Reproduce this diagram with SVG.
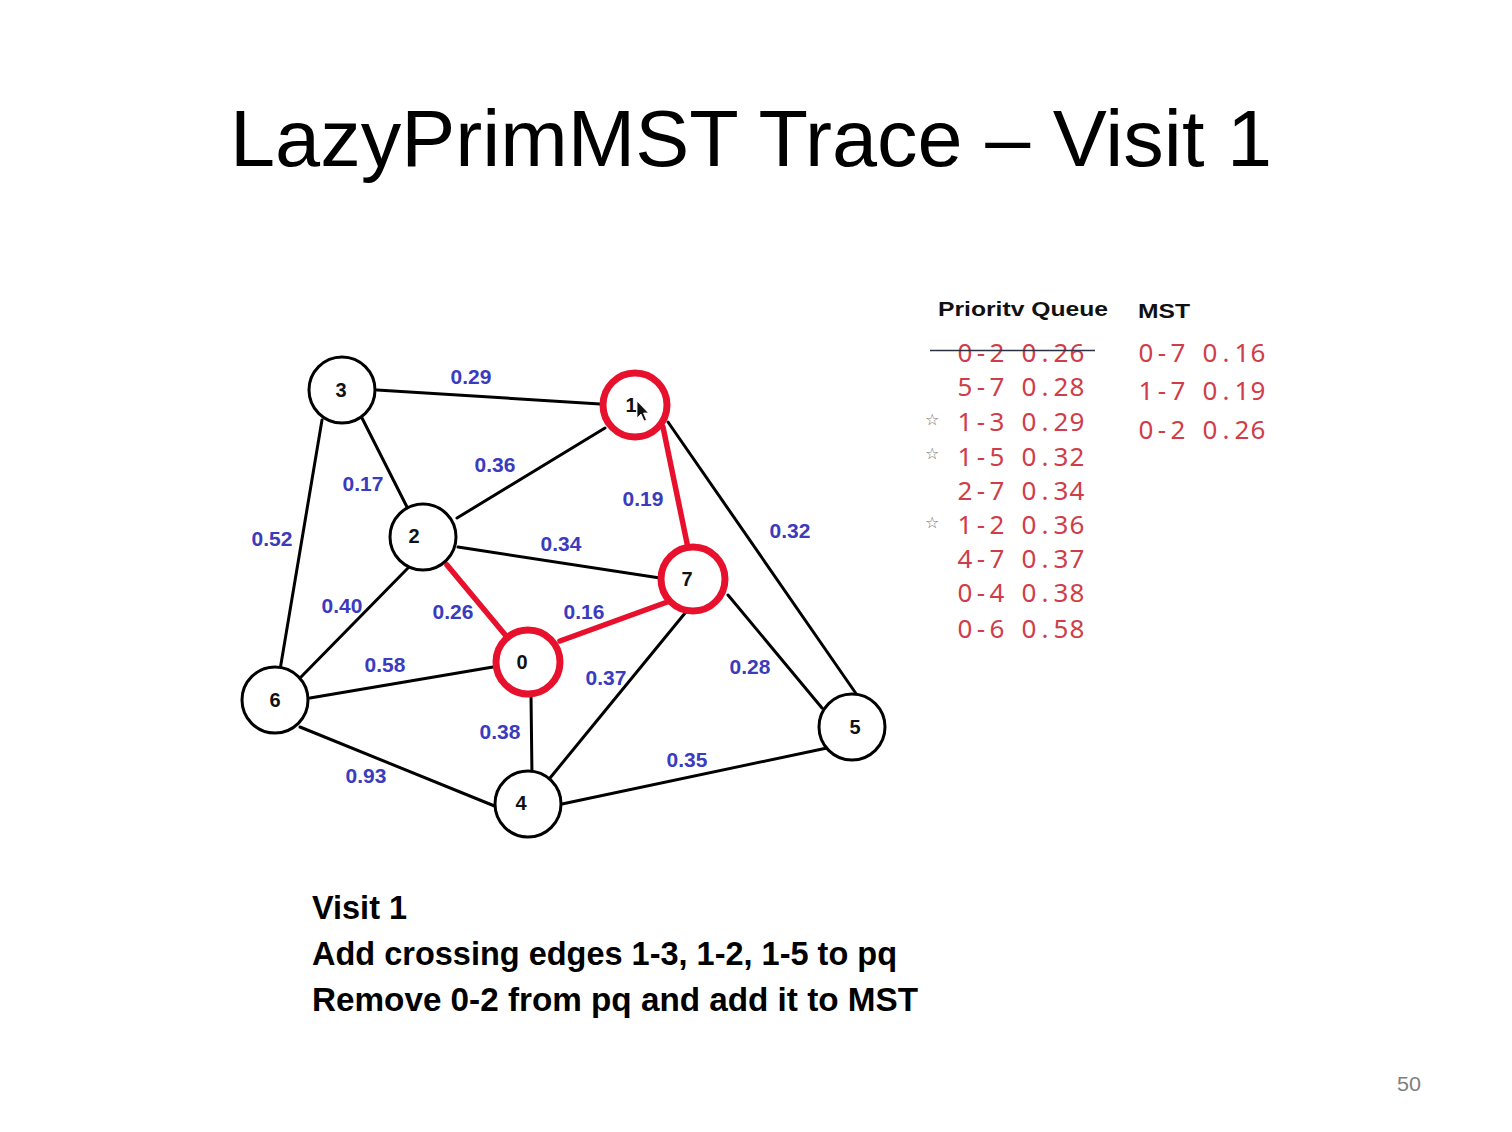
<svg xmlns="http://www.w3.org/2000/svg" width="1512" height="1132" viewBox="0 0 1512 1132">
<style>
.edge{stroke:#000;stroke-width:3;stroke-linecap:round;fill:none}
.tree{stroke:#e8112d;stroke-width:5.5;stroke-linecap:round;fill:none}
.node{fill:#fff;stroke:#000;stroke-width:3}
.rnode{fill:#fff;stroke:#e8112d;stroke-width:7}
.nl{font-family:"Liberation Sans",Arial,sans-serif;font-weight:bold;font-size:20px;fill:#111;text-anchor:middle}
.wl{font-family:"Liberation Sans",Arial,sans-serif;font-weight:bold;font-size:21px;fill:#3b3bbd;text-anchor:middle}
.pq{font-family:"Noto Sans","Open Sans",sans-serif;font-size:26px;fill:#cf3d4a;text-anchor:middle}
.hd{font-family:"Liberation Sans",Arial,sans-serif;font-weight:bold;font-size:21px;fill:#111}
.body{font-family:"Liberation Sans",Arial,sans-serif;font-weight:bold;font-size:33px;fill:#000}
.star{font-family:"DejaVu Sans",sans-serif;font-size:16px;fill:#777}
</style>
<rect width="1512" height="1132" fill="#fff"/>
<text x="230" y="166" font-family="'Liberation Sans',Arial,sans-serif" font-size="80" fill="#000" textLength="1042" lengthAdjust="spacingAndGlyphs">LazyPrimMST Trace – Visit 1</text>

<g id="connectors">
<line class="edge" x1="377" y1="390" x2="600" y2="404"/>
<line class="edge" x1="362" y1="418" x2="407" y2="507"/>
<line class="edge" x1="322" y1="420" x2="280" y2="670"/>
<line class="edge" x1="605" y1="428" x2="457" y2="518"/>
<line class="edge" x1="668" y1="422" x2="857" y2="695"/>
<line class="edge" x1="458" y1="547" x2="660" y2="578"/>
<line class="edge" x1="408" y1="568" x2="300" y2="678"/>
<line class="edge" x1="493" y1="667" x2="310" y2="698"/>
<line class="edge" x1="531" y1="694" x2="532" y2="778"/>
<line class="edge" x1="690" y1="607" x2="550" y2="778"/>
<line class="edge" x1="728" y1="595" x2="822" y2="708"/>
<line class="edge" x1="300" y1="727" x2="497" y2="807"/>
<line class="edge" x1="562" y1="804" x2="827" y2="748"/>
<line class="tree" x1="663" y1="427" x2="688" y2="548"/>
<line class="tree" x1="447" y1="565" x2="507" y2="637"/>
<line class="tree" x1="560" y1="641" x2="670" y2="601"/>
</g>

<g id="edge-labels">
<text class="wl" x="471" y="384">0.29</text>
<text class="wl" x="495" y="472">0.36</text>
<text class="wl" x="363" y="491">0.17</text>
<text class="wl" x="643" y="506">0.19</text>
<text class="wl" x="790" y="538">0.32</text>
<text class="wl" x="272" y="546">0.52</text>
<text class="wl" x="561" y="551">0.34</text>
<text class="wl" x="342" y="613">0.40</text>
<text class="wl" x="453" y="619">0.26</text>
<text class="wl" x="584" y="619">0.16</text>
<text class="wl" x="385" y="672">0.58</text>
<text class="wl" x="606" y="685">0.37</text>
<text class="wl" x="750" y="674">0.28</text>
<text class="wl" x="500" y="739">0.38</text>
<text class="wl" x="687" y="767">0.35</text>
<text class="wl" x="366" y="783">0.93</text>
</g>

<g id="node-3"><circle class="node" cx="342" cy="390" r="33"/><text class="nl" x="341" y="397">3</text></g>
<g id="node-1"><circle class="rnode" cx="635" cy="405" r="32"/><text class="nl" x="631" y="412">1</text></g>
<g id="node-2"><circle class="node" cx="423" cy="537" r="33"/><text class="nl" x="414" y="543">2</text></g>
<g id="node-7"><circle class="rnode" cx="693" cy="579" r="32"/><text class="nl" x="687" y="586">7</text></g>
<g id="node-0"><circle class="rnode" cx="528" cy="662" r="32"/><text class="nl" x="522" y="669">0</text></g>
<g id="node-6"><circle class="node" cx="275" cy="700" r="33"/><text class="nl" x="275" y="707">6</text></g>
<g id="node-5"><circle class="node" cx="852" cy="727" r="33"/><text class="nl" x="855" y="734">5</text></g>
<g id="node-4"><circle class="node" cx="528" cy="804" r="33"/><text class="nl" x="521" y="810">4</text></g>

<polygon points="637,401 637,418 641,414 644,421 646.5,420 643.5,413 648.5,413" fill="#111" stroke="#fff" stroke-width="0.8"/>

<g id="priority-queue">
<text class="hd" x="938" y="316" textLength="170" lengthAdjust="spacingAndGlyphs">Prioritv Queue</text>
<text class="pq" x="965 981 997 1013 1029 1045 1061 1077" y="362">0-2 0.26</text>
<line x1="930" y1="350.5" x2="1095" y2="350.5" stroke="#2b3142" stroke-width="1.6"/>
<text class="pq" x="965 981 997 1013 1029 1045 1061 1077" y="396">5-7 0.28</text>
<text class="pq" x="965 981 997 1013 1029 1045 1061 1077" y="431">1-3 0.29</text>
<text class="pq" x="965 981 997 1013 1029 1045 1061 1077" y="466">1-5 0.32</text>
<text class="pq" x="965 981 997 1013 1029 1045 1061 1077" y="500">2-7 0.34</text>
<text class="pq" x="965 981 997 1013 1029 1045 1061 1077" y="534">1-2 0.36</text>
<text class="pq" x="965 981 997 1013 1029 1045 1061 1077" y="568">4-7 0.37</text>
<text class="pq" x="965 981 997 1013 1029 1045 1061 1077" y="602">0-4 0.38</text>
<text class="pq" x="965 981 997 1013 1029 1045 1061 1077" y="638">0-6 0.58</text>
<text class="star" x="925" y="425">☆</text>
<text class="star" x="925" y="459">☆</text>
<text class="star" x="925" y="528">☆</text>
</g>

<g id="mst">
<text class="hd" x="1138" y="318" textLength="52" lengthAdjust="spacingAndGlyphs">MST</text>
<text class="pq" x="1146 1162 1178 1194 1210 1226 1242 1258" y="362">0-7 0.16</text>
<text class="pq" x="1146 1162 1178 1194 1210 1226 1242 1258" y="400">1-7 0.19</text>
<text class="pq" x="1146 1162 1178 1194 1210 1226 1242 1258" y="439">0-2 0.26</text>
</g>

<text class="body" x="312" y="919" textLength="95" lengthAdjust="spacingAndGlyphs">Visit 1</text>
<text class="body" x="312" y="965" textLength="585" lengthAdjust="spacingAndGlyphs">Add crossing edges 1-3, 1-2, 1-5 to pq</text>
<text class="body" x="312" y="1011" textLength="606" lengthAdjust="spacingAndGlyphs">Remove 0-2 from pq and add it to MST</text>

<text x="1397" y="1091" font-family="'Liberation Sans',Arial,sans-serif" font-size="20" fill="#7f7f7f" textLength="24" lengthAdjust="spacingAndGlyphs">50</text>
</svg>
